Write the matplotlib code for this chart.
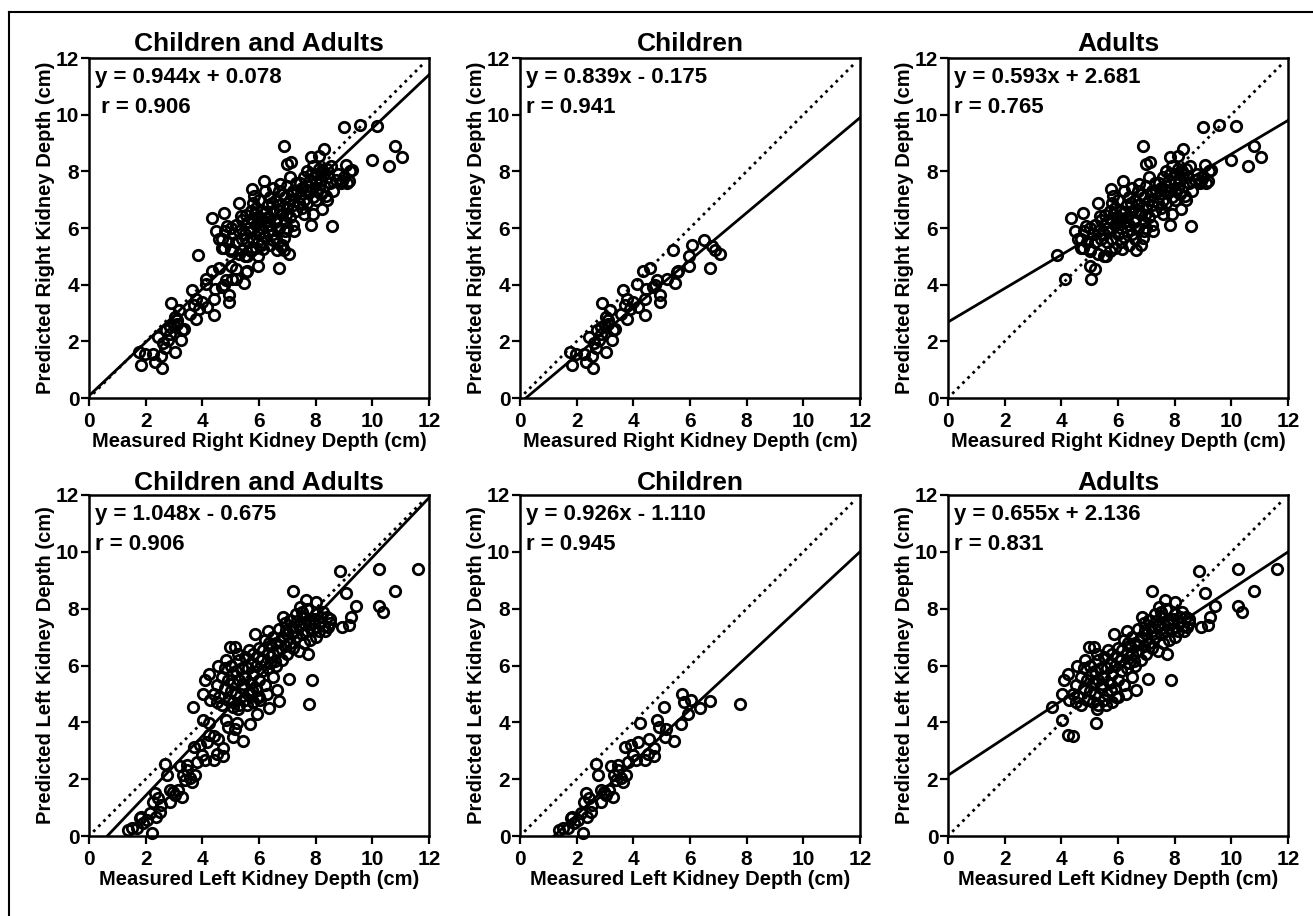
import numpy as np
import matplotlib
matplotlib.use("Agg")
import matplotlib.pyplot as plt
from matplotlib.lines import Line2D

plt.rcParams['font.family'] = ['Liberation Sans', 'DejaVu Sans']
plt.rcParams['font.weight'] = 'bold'

# ---------------- data (measured, predicted) in cm ----------------
children_right = [
    (1.84, 1.18), (1.75, 1.62), (1.99, 1.56), (2.32, 1.27), (2.25, 1.56), (2.58, 1.07),
    (2.44, 2.15), (2.54, 1.50), (2.67, 1.76), (2.70, 2.39), (2.79, 2.04), (2.87, 2.50),
    (2.90, 3.35), (3.05, 1.62), (3.05, 2.86), (3.11, 2.62), (3.17, 3.09), (3.23, 2.04),
    (3.29, 2.39), (3.35, 2.45), (2.99, 2.56), (2.87, 2.27), (3.64, 3.80), (3.76, 3.50),
    (3.76, 2.80), (3.70, 3.27), (3.88, 3.15), (4.00, 3.39), (4.12, 4.01), (4.17, 3.21),
    (4.35, 4.47), (4.59, 4.60), (4.41, 2.92), (4.41, 3.50), (4.44, 3.86), (4.70, 3.92),
    (4.82, 4.15), (4.94, 3.62), (4.94, 3.39), (5.18, 4.21), (5.47, 4.06), (5.41, 5.21),
    (5.59, 4.48), (5.95, 4.65), (5.98, 5.00), (6.06, 5.39), (6.48, 5.59), (6.71, 4.60),
    (6.77, 5.35), (6.89, 5.21), (7.07, 5.09), (3.10, 2.75), (2.60, 1.95), (3.55, 2.95),
    (4.75, 4.00), (5.55, 4.45),
]
adults_right = [
    (3.86, 5.04), (4.12, 4.19), (4.33, 6.37), (4.76, 6.53), (4.47, 5.90), (4.71, 5.60),
    (4.88, 6.08), (4.76, 5.31), (5.00, 4.66), (5.06, 4.21), (5.18, 4.57), (5.00, 5.25),
    (5.29, 6.90), (5.35, 6.43), (5.59, 5.01), (5.76, 7.37), (5.82, 7.14), (6.18, 7.67),
    (6.15, 5.25), (6.65, 5.23), (6.74, 7.55), (6.88, 8.91), (7.00, 8.26), (7.12, 8.34),
    (7.24, 5.90), (6.88, 5.66), (7.82, 8.49), (7.82, 6.10), (8.12, 8.55), (8.29, 8.79),
    (8.24, 6.67), (8.53, 8.20), (8.59, 6.08), (8.35, 7.14), (8.94, 7.67), (9.06, 8.22),
    (9.00, 9.56), (9.18, 7.67), (9.29, 8.06), (9.56, 9.64), (10.00, 8.40), (10.18, 9.60),
    (10.59, 8.20), (10.80, 8.91), (11.06, 8.52),
    (4.60, 5.60), (4.70, 5.30), (4.80, 5.90), (4.90, 5.50), (5.00, 6.00), (5.00, 5.20),
    (5.10, 5.80), (5.20, 5.50), (5.20, 6.10), (5.30, 5.10), (5.30, 5.90), (5.40, 5.60),
    (5.40, 6.30), (5.50, 5.00), (5.50, 5.80), (5.60, 6.20), (5.60, 5.50), (5.70, 6.60),
    (5.70, 5.90), (5.70, 5.20), (5.80, 6.90), (5.80, 6.30), (5.80, 5.60), (5.90, 6.10),
    (5.90, 6.70), (5.90, 5.30), (6.00, 6.40), (6.00, 5.80), (6.00, 7.00), (6.10, 6.00),
    (6.10, 6.60), (6.10, 5.50), (6.20, 7.30), (6.20, 6.20), (6.20, 5.70), (6.30, 6.80),
    (6.30, 6.40), (6.30, 5.90), (6.40, 7.10), (6.40, 6.10), (6.40, 5.40), (6.50, 6.60),
    (6.50, 7.40), (6.50, 5.80), (6.60, 6.30), (6.60, 7.00), (6.60, 5.60), (6.70, 6.80),
    (6.70, 6.00), (6.70, 7.30), (6.80, 6.50), (6.80, 5.40), (6.90, 7.10), (6.90, 6.20),
    (6.90, 5.90), (7.00, 6.70), (7.00, 7.50), (7.00, 6.00), (7.10, 7.00), (7.10, 6.40),
    (7.10, 7.80), (7.20, 6.80), (7.20, 7.30), (7.20, 6.10), (7.30, 7.60), (7.30, 6.60),
    (7.40, 7.10), (7.40, 6.90), (7.50, 7.40), (7.50, 6.70), (7.60, 7.80), (7.60, 7.00),
    (7.60, 6.50), (7.70, 7.50), (7.70, 8.00), (7.70, 6.90), (7.80, 7.30), (7.80, 7.70),
    (7.90, 7.10), (7.90, 8.20), (7.90, 6.50), (8.00, 7.60), (8.00, 7.90), (8.00, 7.00),
    (8.10, 7.40), (8.10, 8.10), (8.20, 7.70), (8.20, 7.20), (8.30, 7.90), (8.30, 7.50),
    (8.40, 7.00), (8.40, 8.10), (8.50, 7.60), (8.60, 7.30), (8.70, 7.70), (8.80, 7.90),
    (8.90, 7.60), (9.00, 7.80), (9.10, 7.60), (9.20, 8.00),
    (5.55, 6.45), (5.65, 6.00), (5.85, 6.50), (6.05, 6.25), (6.25, 6.55), (6.45, 6.90),
    (6.55, 6.20), (6.75, 6.60), (6.85, 7.20), (6.95, 6.45), (7.15, 7.20), (7.35, 7.30),
    (7.45, 7.60), (7.65, 7.30), (7.85, 7.90), (8.05, 7.30), (8.25, 8.00), (8.45, 7.80),
]
children_left = [
    (1.38, 0.21), (1.50, 0.27), (1.68, 0.27), (1.79, 0.62), (1.91, 0.44), (1.85, 0.68),
    (2.05, 0.56), (2.24, 0.12), (2.27, 1.21), (2.33, 1.50), (2.38, 0.68), (2.44, 1.32),
    (2.50, 0.85), (2.68, 2.55), (2.76, 2.14), (2.86, 1.21), (2.86, 1.62), (2.97, 1.56),
    (3.15, 1.62), (3.21, 2.46), (3.27, 1.36), (3.33, 2.14), (3.39, 1.97), (3.45, 2.49),
    (3.62, 1.91), (3.74, 2.14), (3.71, 3.14), (3.80, 2.61), (3.92, 3.20), (3.98, 2.85),
    (4.09, 2.67), (4.15, 3.31), (4.25, 3.96), (4.41, 2.67), (4.57, 3.43), (4.51, 2.90),
    (4.72, 2.81), (4.74, 3.10), (4.84, 4.07), (4.92, 3.84), (5.07, 4.54), (5.10, 3.49),
    (5.16, 3.78), (5.43, 3.35), (5.69, 3.93), (5.71, 4.99), (5.78, 4.72), (5.92, 4.29),
    (6.04, 4.80), (6.34, 4.49), (6.69, 4.75), (7.75, 4.63), (3.45, 2.32), (2.55, 1.10),
    (3.05, 1.45), (3.55, 2.05), (2.15, 0.80),
]
adults_left = [
    (3.66, 4.54), (4.04, 4.07), (4.25, 3.55), (4.41, 3.51), (4.01, 4.99), (4.09, 5.48),
    (4.25, 5.69), (4.27, 4.78), (4.56, 6.00), (4.84, 6.18), (4.98, 6.65), (5.15, 6.65),
    (5.21, 3.96), (5.27, 4.48), (5.56, 4.60), (5.86, 7.12), (5.92, 4.89), (6.27, 5.01),
    (6.62, 5.15), (7.07, 5.54), (7.21, 8.62), (7.45, 8.06), (7.66, 8.29), (8.01, 8.23),
    (7.86, 5.48), (7.74, 6.42), (8.86, 9.32), (9.07, 8.55), (8.92, 7.35), (9.19, 7.41),
    (9.24, 7.70), (9.42, 8.08), (10.25, 9.40), (10.25, 8.11), (10.39, 7.88), (10.80, 8.62),
    (11.62, 9.39), (8.27, 7.88), (8.45, 7.35), (8.51, 7.65), (8.33, 7.23), (6.86, 7.70),
    (4.40, 5.00), (4.50, 4.70), (4.50, 5.30), (4.60, 4.90), (4.70, 5.60), (4.70, 4.60),
    (4.80, 5.20), (4.80, 5.90), (4.90, 4.80), (4.90, 5.50), (5.00, 5.10), (5.00, 6.00),
    (5.10, 5.40), (5.10, 4.70), (5.20, 5.80), (5.20, 5.00), (5.30, 6.20), (5.30, 5.50),
    (5.30, 4.60), (5.40, 5.20), (5.40, 5.90), (5.50, 4.80), (5.50, 5.60), (5.50, 6.30),
    (5.60, 5.00), (5.60, 5.90), (5.70, 5.40), (5.70, 6.10), (5.80, 4.70), (5.80, 5.70),
    (5.80, 6.40), (5.90, 5.20), (5.90, 6.00), (6.00, 5.50), (6.00, 6.60), (6.00, 4.90),
    (6.10, 6.20), (6.10, 5.80), (6.20, 6.90), (6.20, 5.30), (6.30, 6.40), (6.30, 7.20),
    (6.30, 5.90), (6.40, 6.10), (6.40, 6.70), (6.50, 5.60), (6.50, 7.00), (6.50, 6.40),
    (6.60, 6.80), (6.60, 6.00), (6.70, 7.30), (6.70, 6.50), (6.80, 6.20), (6.80, 7.00),
    (6.90, 6.70), (6.90, 7.50), (7.00, 6.40), (7.00, 7.10), (7.10, 6.80), (7.10, 7.60),
    (7.20, 7.20), (7.20, 6.60), (7.30, 7.00), (7.30, 7.80), (7.40, 6.50), (7.40, 7.40),
    (7.50, 7.10), (7.50, 7.90), (7.60, 6.80), (7.60, 7.50), (7.70, 7.20), (7.70, 8.00),
    (7.80, 6.90), (7.80, 7.60), (7.90, 7.30), (8.00, 7.80), (8.00, 7.00), (8.10, 7.50),
    (8.10, 7.20), (8.20, 7.70), (8.30, 7.40), (8.40, 7.70), (8.50, 7.50),
    (5.05, 5.70), (5.25, 6.40), (5.45, 5.35), (5.65, 6.55), (5.75, 5.15), (5.95, 6.30),
    (6.15, 6.55), (6.35, 6.80), (6.55, 6.15), (6.75, 6.85), (6.95, 7.25), (7.15, 7.35),
    (7.35, 7.55), (7.55, 7.70), (7.75, 7.45), (7.95, 7.65),
]

titles = ["Children and Adults", "Children", "Adults"]
slopes_right = [0.944, 0.839, 0.593]
intercepts_right = [0.078, -0.175, 2.681]
r_right = [0.906, 0.941, 0.765]
slopes_left = [1.048, 0.926, 0.655]
intercepts_left = [-0.675, -1.110, 2.136]
r_left = [0.906, 0.945, 0.831]
ticks = [0, 2, 4, 6, 8, 10, 12]

# ---------------- figure ----------------
W, H = 1313, 916
fig = plt.figure(figsize=(W / 100, H / 100), dpi=100)

# frame around the figure (top and left edges visible)
fig.add_artist(Line2D([9 / W, 9 / W], [0, 1 - 12 / H], transform=fig.transFigure,
                      color='black', lw=1.5))
fig.add_artist(Line2D([9 / W, 1], [1 - 12 / H, 1 - 12 / H], transform=fig.transFigure,
                      color='black', lw=1.5))


def add_ax(left_px, top_px, w_px, h_px):
    return fig.add_axes([left_px / W, 1 - (top_px + h_px) / H, w_px / W, h_px / H])


lefts = [89, 520, 948]
rows = [
    dict(top=58, h=340, side="Right",
         groups=[children_right + adults_right, children_right, adults_right],
         slopes=slopes_right, inter=intercepts_right, rs=r_right, tpad=5),
    dict(top=495, h=341, side="Left",
         groups=[children_left + adults_left, children_left, adults_left],
         slopes=slopes_left, inter=intercepts_left, rs=r_left, tpad=1.5),
]


def fmt_eq(m, b):
    sign = '+' if b >= 0 else '-'
    return f"y = {m:.3f}x {sign} {abs(b):.3f}"


for row in rows:
    for i in range(3):
        ax = add_ax(lefts[i], row['top'], 340, row['h'])
        pts = np.array(row['groups'][i])
        ax.plot(pts[:, 0], pts[:, 1], 'o', ms=7.5, mfc='none', mec='black', mew=2.0,
                clip_on=False, zorder=3)
        xx = np.array([0.0, 12.0])
        ax.plot(xx, row['slopes'][i] * xx + row['inter'][i], '-', color='black', lw=2.0,
                zorder=4)
        ax.plot([0.15, 11.85], [0.15, 11.85], linestyle=(0, (1, 1.6)), color='black',
                lw=2.0, zorder=4)
        ax.set_xlim(0, 12)
        ax.set_ylim(0, 12)
        ax.set_xticks(ticks)
        ax.set_yticks(ticks)
        ax.tick_params(axis='both', direction='out', length=6, width=1.6,
                       labelsize=15, top=False, right=False)
        ax.tick_params(axis='x', pad=4)
        ax.tick_params(axis='y', pad=1)
        for lab in ax.get_xticklabels() + ax.get_yticklabels():
            lab.set_fontweight('bold')
        for s in ax.spines.values():
            s.set_linewidth(1.8)
        ax.set_title(titles[i], fontsize=19, fontweight='bold', pad=row['tpad'])
        ax.set_xlabel(f"Measured {row['side']} Kidney Depth (cm)", fontsize=14.5,
                      fontweight='bold', va='center')
        ax.xaxis.set_label_coords(0.5, -0.128)
        ax.set_ylabel(f"Predicted {row['side']} Kidney Depth (cm)", fontsize=14.5,
                      fontweight='bold', va='center')
        ax.yaxis.set_label_coords(-0.128, 0.5)
        ax.text(0.018, 0.943, fmt_eq(row['slopes'][i], row['inter'][i]),
                transform=ax.transAxes, fontsize=16, fontweight='bold', va='center')
        rpre = " r" if (i == 0 and row['side'] == "Right") else "r"
        ax.text(0.018, 0.855, f"{rpre} = {row['rs'][i]:.3f}", transform=ax.transAxes,
                fontsize=16, fontweight='bold', va='center')

fig.savefig("out.png", dpi=100)
